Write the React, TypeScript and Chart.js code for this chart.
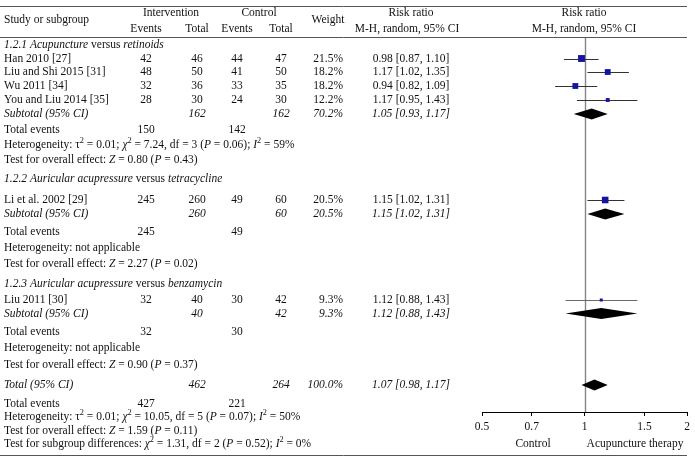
import React, { useEffect, useRef } from "react";
import { Chart, registerables } from "chart.js";
Chart.register(...registerables);

// ---------- DATA ----------
const studyNames = ["Han 2010 [27]", "Liu and Shi 2015 [31]", "Wu 2011 [34]", "You and Liu 2014 [35]", "Li et al. 2002 [29]", "Liu 2011 [30]"];
const intEvents = [42, 48, 32, 28, 245, 32];
const intTotal = [46, 50, 36, 30, 260, 40];
const ctlEvents = [44, 41, 33, 24, 49, 30];
const ctlTotal = [47, 50, 35, 30, 60, 42];
const weights = [21.5, 18.2, 18.2, 12.2, 20.5, 9.3];
const rr = [0.98, 1.17, 0.94, 1.17, 1.15, 1.12];
const rrLo = [0.87, 1.02, 0.82, 0.95, 1.02, 0.88];
const rrHi = [1.1, 1.35, 1.09, 1.43, 1.31, 1.43];

const subgroupTitles = [
  "{i:1.2.1 Acupuncture} versus {i:retinoids}",
  "{i:1.2.2 Auricular acupressure} versus {i:tetracycline}",
  "{i:1.2.3 Auricular acupressure} versus {i:benzamycin}",
];
const subRR = [1.05, 1.15, 1.12];
const subLo = [0.93, 1.02, 0.88];
const subHi = [1.17, 1.31, 1.43];
const subIntTotal = [162, 260, 40];
const subCtlTotal = [162, 60, 42];
const subWeight = [70.2, 20.5, 9.3];
const subIntEvents = [150, 245, 32];
const subCtlEvents = [142, 49, 30];
const subHet = [
  "Heterogeneity: τ{^2} = 0.01; {i:χ}{^2} = 7.24, df = 3 ({i:P} = 0.06); {i:I}{^2} = 59%",
  "Heterogeneity: not applicable",
  "Heterogeneity: not applicable",
];
const subTest = [
  "Test for overall effect: {i:Z} = 0.80 ({i:P} = 0.43)",
  "Test for overall effect: {i:Z} = 2.27 ({i:P} = 0.02)",
  "Test for overall effect: {i:Z} = 0.90 ({i:P} = 0.37)",
];
const overallRR = 1.07;
const overallLo = 0.98;
const overallHi = 1.17;
const overallIntTotal = 462;
const overallCtlTotal = 264;
const overallIntEvents = 427;
const overallCtlEvents = 221;
const overallHet = "Heterogeneity: τ{^2} = 0.01; {i:χ}{^2} = 10.05, df = 5 ({i:P} = 0.07); {i:I}{^2} = 50%";
const overallTest = "Test for overall effect: {i:Z} = 1.59 ({i:P} = 0.11)";
const subgroupDiff = "Test for subgroup differences: {i:χ}{^2} = 1.31, df = 2 ({i:P} = 0.52); {i:I}{^2} = 0%";
const xTicks = [0.5, 0.7, 1, 1.5, 2];

// ---------- LAYOUT (row offsets below the header rule) ----------
const groupTitleRow = [7, 141, 246];
const studyRow = [20.5, 34, 48, 62, 162, 262];
const subtotalRow = [76, 176, 275.5];
const totalEventsRow = [92, 194, 294];
const hetRow = [107, 210, 310];
const testRow = [122, 226, 327];
const overallRow = 347;
const overallEventsRow = 366;
const overallHetRow = 379;
const overallTestRow = 393;
const subgroupDiffRow = 406;

const FONT = '"Liberation Serif", "DejaVu Serif", serif';
const FS = 11.5;
const TXT = "#111";

function drawRich(ctx: CanvasRenderingContext2D, str: string, x: number, y: number, baseItalic = false, size = FS) {
  const re = /\{(\^|i:)([^}]*)\}/g;
  const segs: { t: string; it: boolean; sup: boolean }[] = [];
  let last = 0;
  let m: RegExpExecArray | null;
  while ((m = re.exec(str))) {
    if (m.index > last) segs.push({ t: str.slice(last, m.index), it: baseItalic, sup: false });
    if (m[1] === "^") segs.push({ t: m[2], it: baseItalic, sup: true });
    else segs.push({ t: m[2], it: true, sup: false });
    last = re.lastIndex;
  }
  if (last < str.length) segs.push({ t: str.slice(last), it: baseItalic, sup: false });
  let cx = x;
  ctx.textAlign = "left";
  ctx.textBaseline = "middle";
  for (const s of segs) {
    const fs = s.sup ? size * 0.72 : size;
    ctx.font = `${s.it ? "italic " : ""}${fs}px ${FONT}`;
    ctx.fillText(s.t, cx, s.sup ? y - 4 : y);
    cx += ctx.measureText(s.t).width;
  }
}

function txt(ctx: CanvasRenderingContext2D, s: string, x: number, y: number, align: CanvasTextAlign = "center", italic = false) {
  ctx.font = `${italic ? "italic " : ""}${FS}px ${FONT}`;
  ctx.textAlign = align;
  ctx.textBaseline = "middle";
  ctx.fillText(s, x, y);
}

const fmt = (v: number) => v.toFixed(2);
const ciText = (a: number, b: number, c: number) => `${fmt(a)} [${fmt(b)}, ${fmt(c)}]`;

const forestPlugin = {
  id: "forest",
  beforeDatasetsDraw(chart: any) {
    const { ctx, chartArea, scales } = chart;
    const xs = scales.x;
    const ys = scales.y;
    ctx.save();
    // line of no effect
    ctx.strokeStyle = "#858585";
    ctx.lineWidth = 1.4;
    ctx.beginPath();
    const x1 = Math.round(xs.getPixelForValue(1)) + 0.5;
    ctx.moveTo(x1, chartArea.top);
    ctx.lineTo(x1, chartArea.bottom);
    ctx.stroke();
    // whiskers
    ctx.lineWidth = 1.2;
    for (let i = 0; i < rr.length; i++) {
      const y = Math.round(ys.getPixelForValue(studyRow[i])) + 0.5;
      ctx.strokeStyle = i === 5 ? "#6a6a6a" : "#333";
      ctx.beginPath();
      ctx.moveTo(xs.getPixelForValue(rrLo[i]), y);
      ctx.lineTo(xs.getPixelForValue(rrHi[i]), y);
      ctx.stroke();
    }
    // diamonds
    const diamond = (c: number, lo: number, hi: number, row: number, h: number) => {
      const y = ys.getPixelForValue(row);
      ctx.fillStyle = "#000";
      ctx.beginPath();
      ctx.moveTo(xs.getPixelForValue(lo), y);
      ctx.lineTo(xs.getPixelForValue(c), y - h);
      ctx.lineTo(xs.getPixelForValue(hi), y);
      ctx.lineTo(xs.getPixelForValue(c), y + h);
      ctx.closePath();
      ctx.fill();
    };
    for (let g = 0; g < 3; g++) diamond(subRR[g], subLo[g], subHi[g], subtotalRow[g], 5.5);
    diamond(overallRR, overallLo, overallHi, overallRow, 5.5);
    ctx.restore();
  },
  afterDraw(chart: any) {
    const { ctx, chartArea, scales } = chart;
    const ys = scales.y;
    const Y = (r: number) => ys.getPixelForValue(r);
    ctx.save();
    ctx.fillStyle = TXT;
    // rules
    ctx.strokeStyle = "#555";
    ctx.lineWidth = 1;
    const rule = (y: number) => {
      ctx.beginPath();
      ctx.moveTo(0, y + 0.5);
      ctx.lineTo(687, y + 0.5);
      ctx.stroke();
    };
    rule(6);
    rule(Math.round(chartArea.top) - 1);
    rule(455);

    // header
    const C = { name: 4, ie: 146, it: 197, ce: 237, ct: 281, w: 343, wc: 328, rr: 411, plot: 584 };
    txt(ctx, "Study or subgroup", C.name, 20, "left");
    txt(ctx, "Intervention", 171, 13);
    txt(ctx, "Control", 259, 13);
    txt(ctx, "Events", C.ie, 29);
    txt(ctx, "Total", C.it, 29);
    txt(ctx, "Events", C.ce, 29);
    txt(ctx, "Total", C.ct, 29);
    txt(ctx, "Weight", C.wc, 20);
    txt(ctx, "Risk ratio", C.rr, 13);
    txt(ctx, "M-H, random, 95% CI", C.rr - 4, 29);
    txt(ctx, "Risk ratio", C.plot, 13);
    txt(ctx, "M-H, random, 95% CI", C.plot, 29);

    // subgroups
    for (let g = 0; g < 3; g++) {
      drawRich(ctx, subgroupTitles[g], C.name, Y(groupTitleRow[g]));
      for (let i = 0; i < studyNames.length; i++) {
        const grp = i < 4 ? 0 : i === 4 ? 1 : 2;
        if (grp !== g) continue;
        const y = Y(studyRow[i]);
        txt(ctx, studyNames[i], C.name, y, "left");
        txt(ctx, String(intEvents[i]), C.ie, y);
        txt(ctx, String(intTotal[i]), C.it, y);
        txt(ctx, String(ctlEvents[i]), C.ce, y);
        txt(ctx, String(ctlTotal[i]), C.ct, y);
        txt(ctx, weights[i].toFixed(1) + "%", C.w, y, "right");
        txt(ctx, ciText(rr[i], rrLo[i], rrHi[i]), C.rr, y);
      }
      const ys2 = Y(subtotalRow[g]);
      txt(ctx, "Subtotal (95% CI)", C.name, ys2, "left", true);
      txt(ctx, String(subIntTotal[g]), C.it, ys2, "center", true);
      txt(ctx, String(subCtlTotal[g]), C.ct, ys2, "center", true);
      txt(ctx, subWeight[g].toFixed(1) + "%", C.w, ys2, "right", true);
      txt(ctx, ciText(subRR[g], subLo[g], subHi[g]), C.rr, ys2, "center", true);
      const yt = Y(totalEventsRow[g]);
      txt(ctx, "Total events", C.name, yt, "left");
      txt(ctx, String(subIntEvents[g]), C.ie, yt);
      txt(ctx, String(subCtlEvents[g]), C.ce, yt);
      drawRich(ctx, subHet[g], C.name, Y(hetRow[g]));
      drawRich(ctx, subTest[g], C.name, Y(testRow[g]));
    }
    // overall
    const yo = Y(overallRow);
    txt(ctx, "Total (95% CI)", C.name, yo, "left", true);
    txt(ctx, String(overallIntTotal), C.it, yo, "center", true);
    txt(ctx, String(overallCtlTotal), C.ct, yo, "center", true);
    txt(ctx, "100.0%", C.w, yo, "right", true);
    txt(ctx, ciText(overallRR, overallLo, overallHi), C.rr, yo, "center", true);
    const yoe = Y(overallEventsRow);
    txt(ctx, "Total events", C.name, yoe, "left");
    txt(ctx, String(overallIntEvents), C.ie, yoe);
    txt(ctx, String(overallCtlEvents), C.ce, yoe);
    drawRich(ctx, overallHet, C.name, Y(overallHetRow));
    drawRich(ctx, overallTest, C.name, Y(overallTestRow));
    drawRich(ctx, subgroupDiff, C.name, Y(subgroupDiffRow));

    // favours labels
    txt(ctx, "Control", 533, 444);
    txt(ctx, "Acupuncture therapy", 635, 444);
    ctx.restore();
  },
};

export default function App() {
  const ref = useRef<HTMLCanvasElement>(null);
  useEffect(() => {
    document.body.style.margin = "0";
    if (!ref.current) return;
    const chart = new Chart(ref.current, {
      type: "scatter",
      data: {
        datasets: [
          {
            data: rr.map((v, i) => ({ x: v, y: studyRow[i] })),
            pointStyle: "rect",
            pointRadius: (c: any) => Math.max(3, weights[c.dataIndex] * 0.32) / Math.SQRT2,
            backgroundColor: "#1414a0",
            borderWidth: 0,
          },
        ],
      },
      options: {
        responsive: false,
        animation: false,
        events: [],
        layout: { padding: { left: 482, right: 8, top: 38, bottom: 31 } },
        plugins: { legend: { display: false }, tooltip: { enabled: false } },
        scales: {
          x: {
            type: "logarithmic",
            min: 0.5,
            max: 2,
            afterBuildTicks: (s: any) => {
              s.ticks = xTicks.map((v) => ({ value: v }));
            },
            afterFit: (s: any) => {
              s.height = 20;
            },
            ticks: {
              autoSkip: false,
              maxRotation: 0,
              padding: 4,
              color: TXT,
              font: { family: FONT, size: FS },
              callback: (v: any) => String(v),
            },
            grid: { drawOnChartArea: false, drawTicks: true, tickLength: 4, color: "#000", lineWidth: 1 },
            border: { display: true, color: "#000", width: 1 },
          },
          y: {
            type: "linear",
            display: false,
            reverse: true,
            min: 0,
            max: 374,
          },
        },
      },
      plugins: [forestPlugin],
    } as any);
    return () => chart.destroy();
  }, []);
  return (
    <div style={{ width: 695, height: 463 }}>
      <canvas ref={ref} width={695} height={463} style={{ display: "block" }} />
    </div>
  );
}
